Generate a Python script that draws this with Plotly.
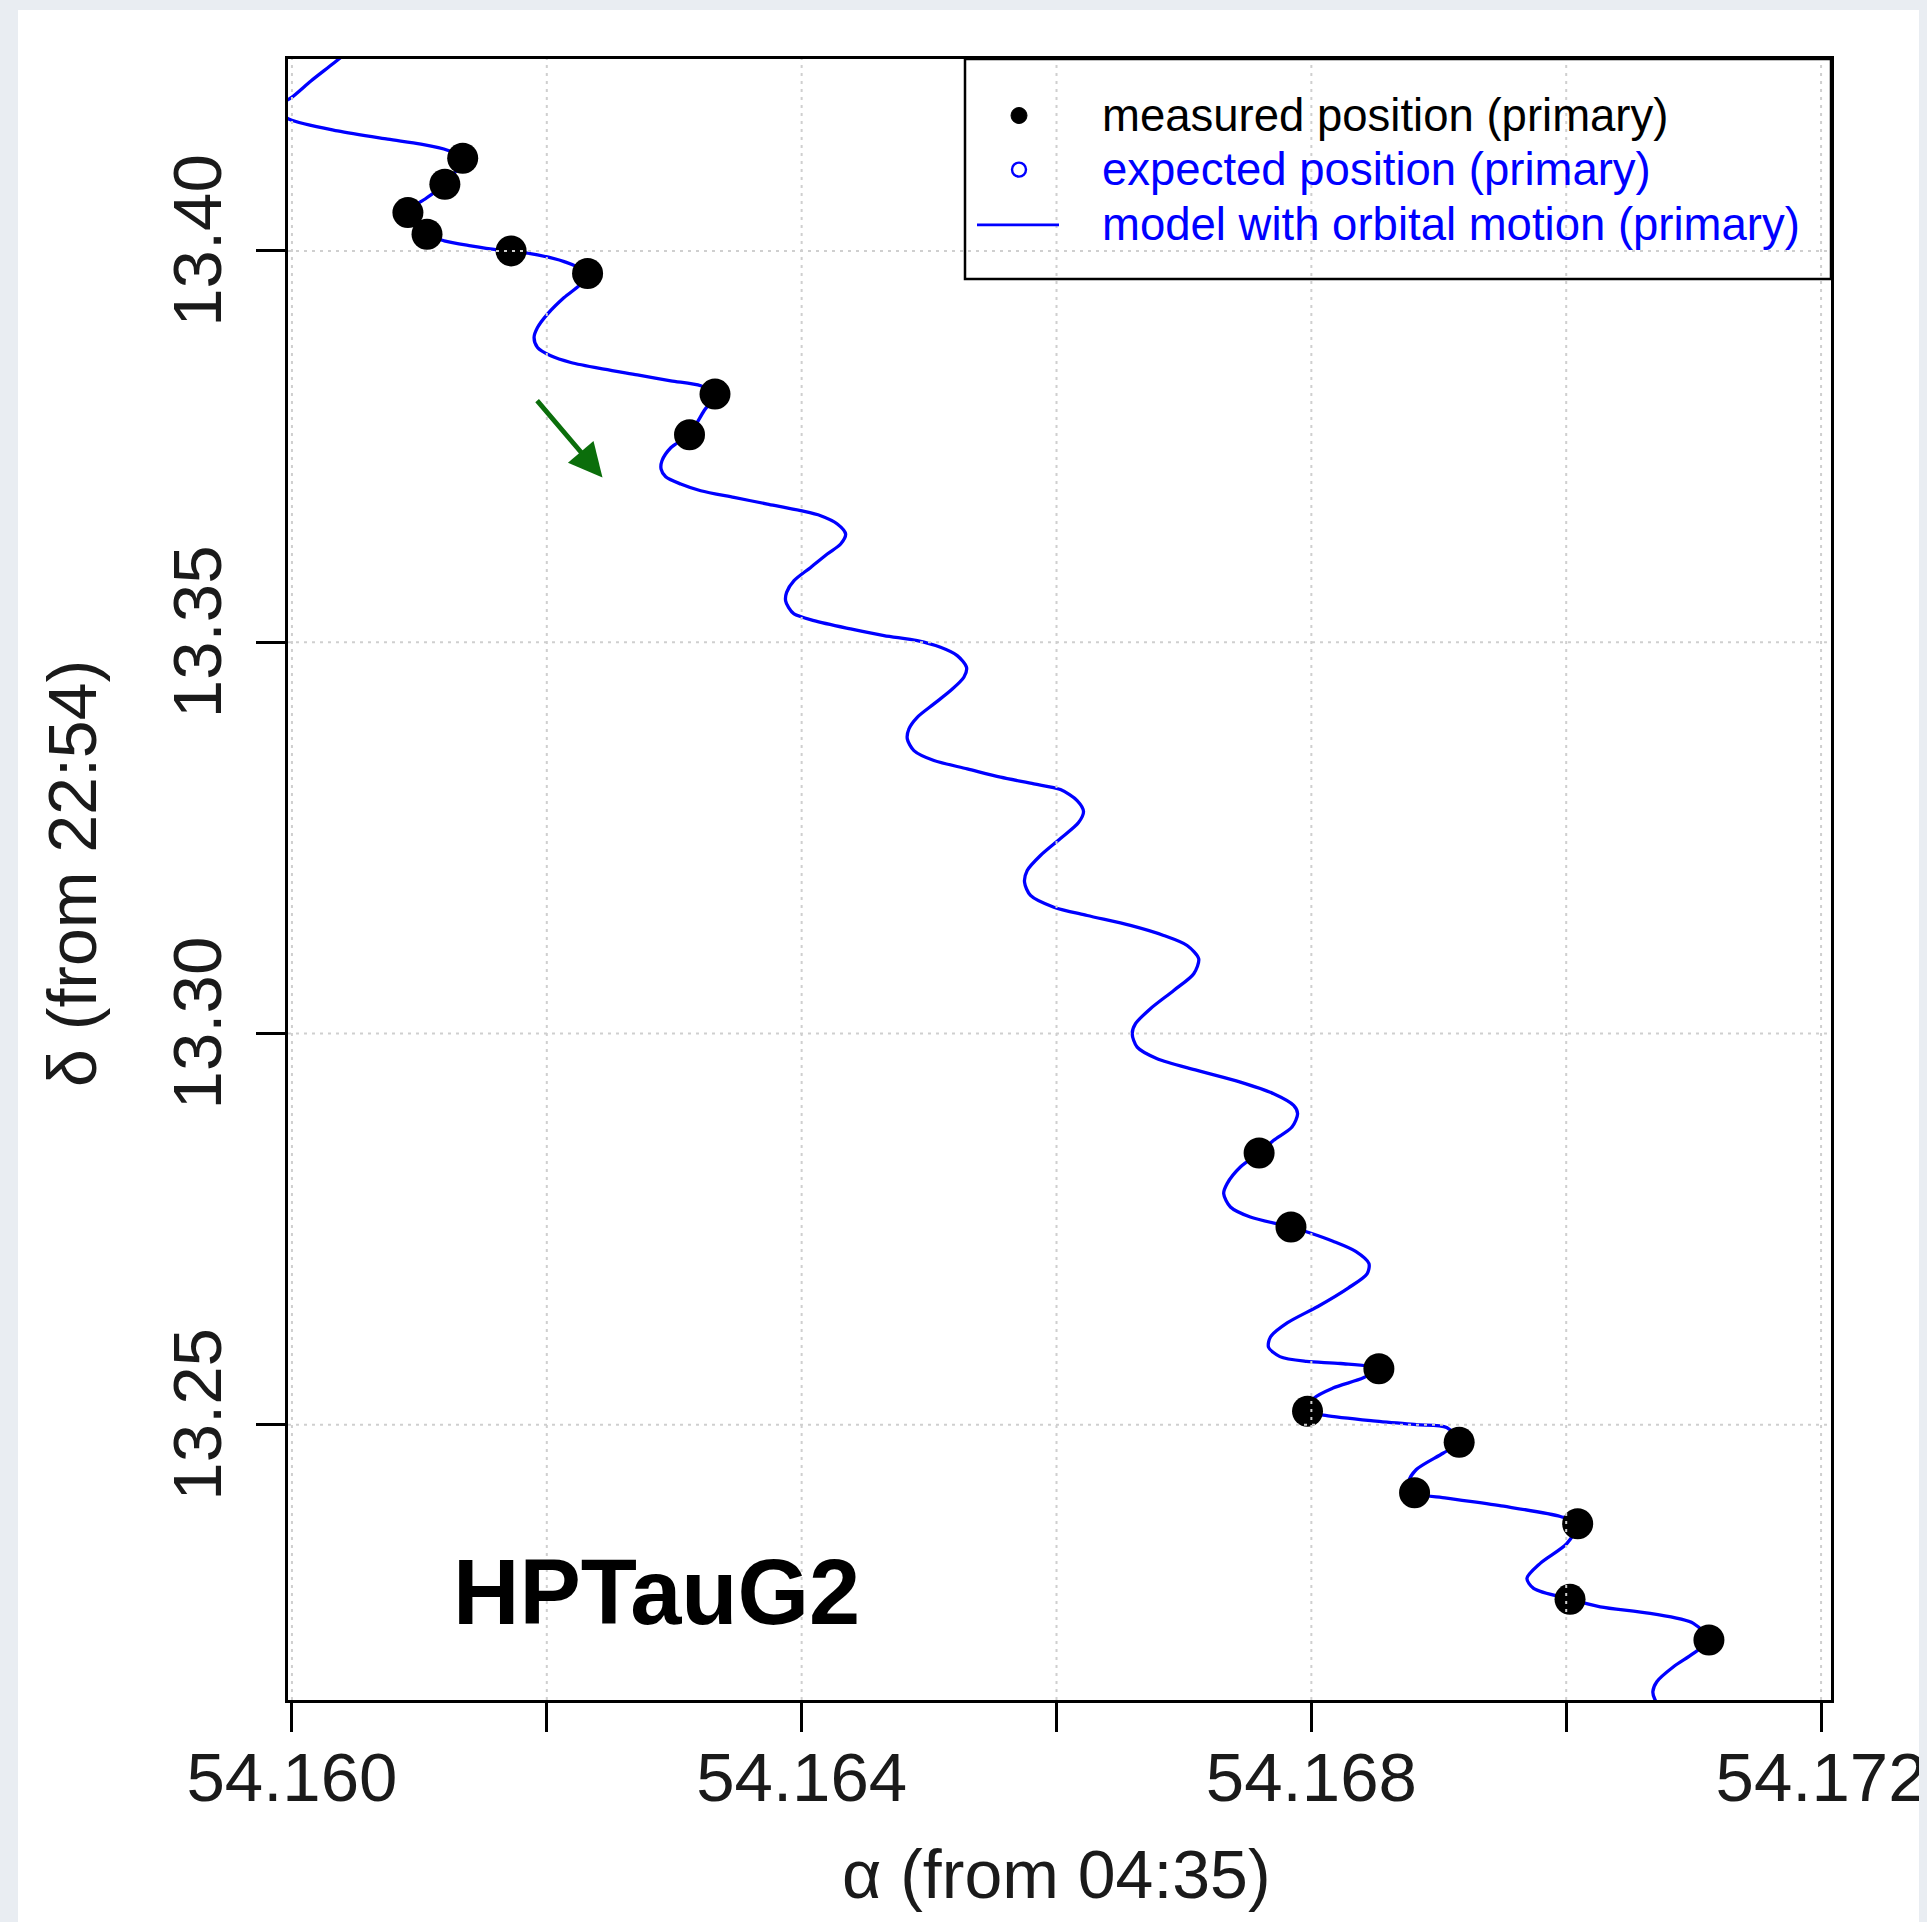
import plotly.graph_objects as go

# ---------------- data ----------------
meas_ra = [54.16134, 54.16120, 54.16091, 54.16106, 54.16172, 54.16232, 54.16332, 54.16312,
           54.16759, 54.16784, 54.16853, 54.16797, 54.16916, 54.16881, 54.17009, 54.17003, 54.17112]
meas_dec = [13.41184, 13.40852, 13.40489, 13.40213, 13.40000, 13.39710, 13.38170, 13.37650,
            13.28472, 13.27526, 13.25714, 13.25172, 13.24776, 13.24130, 13.23734, 13.22768, 13.22248]

model_ra = [
    54.160541, 54.160329, 54.160149, 54.159992, 54.159851, 54.159979, 54.160358, 54.160751,
    54.161012, 54.161221, 54.161339, 54.161200, 54.161053, 54.160907, 54.161059, 54.161195,
    54.161404, 54.161613, 54.161717, 54.161927, 54.162136, 54.162324, 54.162267, 54.162136,
    54.162005, 54.161927, 54.161900, 54.161927, 54.162031, 54.162188, 54.162449, 54.162711,
    54.162973, 54.163208, 54.163320, 54.163234, 54.163116, 54.162973, 54.162904, 54.162897,
    54.162933, 54.163051, 54.163208, 54.163469, 54.163731, 54.163992, 54.164149, 54.164280,
    54.164345, 54.164306, 54.164201, 54.164071, 54.163940, 54.163882, 54.163874, 54.163898,
    54.163940, 54.164096, 54.164384, 54.164646, 54.164907, 54.165090, 54.165221, 54.165294,
    54.165273, 54.165169, 54.165038, 54.164907, 54.164842, 54.164829, 54.164881, 54.165038,
    54.165300, 54.165561, 54.165822, 54.166031, 54.166162, 54.166212, 54.166173, 54.166031,
    54.165874, 54.165770, 54.165749, 54.165796, 54.165979, 54.166241, 54.166580, 54.166841,
    54.167025, 54.167116, 54.167077, 54.166920, 54.166737, 54.166620, 54.166594, 54.166633,
    54.166790, 54.167104, 54.167443, 54.167704, 54.167861, 54.167892, 54.167848, 54.167704,
    54.167592, 54.167443, 54.167339, 54.167312, 54.167365, 54.167521, 54.167841, 54.167991,
    54.168170, 54.168348, 54.168452, 54.168437, 54.168289, 54.168051, 54.167813, 54.167679,
    54.167664, 54.167753, 54.167961, 54.168229, 54.168527, 54.168408, 54.168170, 54.168021,
    54.167967, 54.168110, 54.168467, 54.168824, 54.169062, 54.169161, 54.169033, 54.168824,
    54.168765, 54.168809, 54.169062, 54.169509, 54.169955, 54.170089, 54.170006, 54.169796,
    54.169692, 54.169744, 54.170032, 54.170267, 54.170659, 54.170998, 54.171116, 54.170998,
    54.170842, 54.170711, 54.170680, 54.170698, 54.170737, 54.170839]
model_dec = [
    13.42682, 13.42401, 13.42171, 13.41954, 13.41826, 13.41682, 13.41533, 13.41427,
    13.41363, 13.41286, 13.41184, 13.40852, 13.40673, 13.40489, 13.40213, 13.40128,
    13.40064, 13.40013, 13.40000, 13.39949, 13.39863, 13.39710, 13.39575, 13.39404,
    13.39192, 13.39020, 13.38893, 13.38765, 13.38659, 13.38574, 13.38489, 13.38416,
    13.38340, 13.38276, 13.38170, 13.37957, 13.37650, 13.37484, 13.37318, 13.37212,
    13.37114, 13.37021, 13.36935, 13.36849, 13.36765, 13.36680, 13.36616, 13.36510,
    13.36382, 13.36254, 13.36127, 13.35955, 13.35786, 13.35636, 13.35530, 13.35441,
    13.35360, 13.35275, 13.35169, 13.35083, 13.35019, 13.34934, 13.34828, 13.34678,
    13.34551, 13.34381, 13.34211, 13.34040, 13.33892, 13.33764, 13.33614, 13.33487,
    13.33381, 13.33274, 13.33189, 13.33116, 13.32976, 13.32835, 13.32695, 13.32491,
    13.32274, 13.32082, 13.31933, 13.31763, 13.31613, 13.31507, 13.31380, 13.31252,
    13.31124, 13.30954, 13.30763, 13.30549, 13.30316, 13.30124, 13.29997, 13.29825,
    13.29677, 13.29528, 13.29378, 13.29230, 13.29081, 13.28975, 13.28804, 13.28634,
    13.28472, 13.28293, 13.28081, 13.27953, 13.27782, 13.27654, 13.27526, 13.27450,
    13.27345, 13.27215, 13.27059, 13.26928, 13.26746, 13.26511, 13.26303, 13.26121,
    13.25990, 13.25870, 13.25808, 13.25782, 13.25714, 13.25599, 13.25469, 13.25339,
    13.25172, 13.25120, 13.25052, 13.25000, 13.24964, 13.24776, 13.24635, 13.24427,
    13.24270, 13.24130, 13.24062, 13.23958, 13.23827, 13.23734, 13.23483, 13.23228,
    13.23036, 13.22908, 13.22768, 13.22673, 13.22589, 13.22462, 13.22248, 13.22078,
    13.21907, 13.21716, 13.21588, 13.21482, 13.21397, 13.21316]

# proper-motion arrow (tail -> head)
arrow_ra = [54.161914, 54.162437]
arrow_dec = [13.38106, 13.37105]

x_ticks = [54.160, 54.162, 54.164, 54.166, 54.168, 54.170, 54.172]
x_ticklabels = ["54.160", "", "54.164", "", "54.168", "", "54.172"]
y_ticks = [13.25, 13.30, 13.35, 13.40]
y_ticklabels = ["13.25", "13.30", "13.35", "13.40"]

legend_labels = ["measured position (primary)", "expected position (primary)",
                 "model with orbital motion (primary)"]
legend_colors = ["black", "#0000ff", "#0000ff"]

# ---------------- figure ----------------
FONT = "Liberation Sans, Arial, Helvetica, sans-serif"
BG = "#e9edf2"
OFF = 8                       # default body margin of the html page
PAGE_W, PAGE_H = 1927, 1922
W, H = PAGE_W - OFF, PAGE_H - OFF
# plot box in page pixels: left 288, right 1831, top 59, bottom 1700
L, T = 288 - OFF, 59 - OFF
R = W - (1831 - OFF)
B = H - (1700 - OFF)
pw, ph = W - L - R, H - T - B

def px(X):  # page pixel -> paper x
    return (X - OFF - L) / pw

def py(Y):  # page pixel -> paper y
    return (H - B - (Y - OFF)) / ph

fig = go.Figure()

fig.add_trace(go.Scatter(x=model_ra, y=model_dec, mode="lines",
                         line=dict(color="#0000ff", width=3.3, shape="spline", smoothing=0.8),
                         showlegend=False, hoverinfo="skip"))
fig.add_trace(go.Scatter(x=meas_ra, y=meas_dec, mode="markers",
                         marker=dict(color="black", size=31, line=dict(width=0)),
                         showlegend=False))

shapes = []
# background "paper" strips outside the white panel
shapes.append(dict(type="rect", xref="paper", yref="paper", x0=px(0), x1=px(18), y0=py(PAGE_H), y1=py(0),
                   fillcolor=BG, line=dict(width=0), layer="below"))
shapes.append(dict(type="rect", xref="paper", yref="paper", x0=px(0), x1=px(PAGE_W), y0=py(10), y1=py(0),
                   fillcolor=BG, line=dict(width=0), layer="below"))

# grid (dotted, drawn over the data like in R)
for xv in x_ticks:
    shapes.append(dict(type="line", xref="x", yref="paper", x0=xv, x1=xv, y0=0, y1=1,
                       line=dict(color="#cfcfcf", width=2, dash="3px,5px"), layer="above"))
for yv in y_ticks:
    shapes.append(dict(type="line", xref="paper", yref="y", x0=0, x1=1, y0=yv, y1=yv,
                       line=dict(color="#cfcfcf", width=2, dash="3px,5px"), layer="above"))

# legend box
shapes.append(dict(type="rect", xref="paper", yref="paper", x0=px(965), x1=1, y0=py(279), y1=1,
                   line=dict(color="black", width=2.5), layer="above"))
leg_y = [115.5, 169.6, 224.9]
r1, r2 = 8, 7
shapes.append(dict(type="circle", xref="paper", yref="paper",
                   x0=px(1019 - r1), x1=px(1019 + r1), y0=py(leg_y[0] + r1), y1=py(leg_y[0] - r1),
                   fillcolor="black", line=dict(color="black", width=1), layer="above"))
shapes.append(dict(type="circle", xref="paper", yref="paper",
                   x0=px(1019 - r2), x1=px(1019 + r2), y0=py(leg_y[1] + r2), y1=py(leg_y[1] - r2),
                   line=dict(color="#0000ff", width=2.4), layer="above"))
shapes.append(dict(type="line", xref="paper", yref="paper",
                   x0=px(977), x1=px(1059), y0=py(leg_y[2]), y1=py(leg_y[2]),
                   line=dict(color="#0000ff", width=2.8), layer="above"))

annotations = []
for lab, col, yy in zip(legend_labels, legend_colors, leg_y):
    annotations.append(dict(xref="paper", yref="paper", x=px(1100), y=py(yy), text=lab,
                            showarrow=False, xanchor="left", yanchor="middle",
                            font=dict(family=FONT, size=45.5, color=col)))

# object name
annotations.append(dict(xref="paper", yref="paper", x=px(656), y=py(1592), text="<b>HPTauG2</b>",
                        showarrow=False, xanchor="center", yanchor="middle",
                        font=dict(family=FONT, size=92, color="black")))
# axis titles
annotations.append(dict(xref="paper", yref="paper", x=px(1056), y=py(1874), text="α (from 04:35)",
                        showarrow=False, xanchor="center", yanchor="middle",
                        font=dict(family=FONT, size=68, color="#1a1a1a")))
annotations.append(dict(xref="paper", yref="paper", x=px(72), y=py(874), text="δ (from 22:54)",
                        showarrow=False, xanchor="center", yanchor="middle", textangle=-90,
                        font=dict(family=FONT, size=68, color="#1a1a1a")))
# proper-motion arrow
annotations.append(dict(x=arrow_ra[1], y=arrow_dec[1], ax=arrow_ra[0], ay=arrow_dec[0],
                        xref="x", yref="y", axref="x", ayref="y", text="", showarrow=True,
                        arrowhead=2, arrowsize=1.4, arrowwidth=4.8, arrowcolor="#0b6e0b",
                        standoff=0, startstandoff=0))

fig.update_layout(
    template="none",
    width=W, height=H,
    autosize=False,
    margin=dict(l=L, r=R, t=T, b=B, pad=0, autoexpand=False),
    paper_bgcolor="white", plot_bgcolor="white",
    showlegend=False,
    shapes=shapes, annotations=annotations,
    font=dict(family=FONT, color="#1a1a1a"),
    xaxis=dict(range=[54.159969, 54.172078], tickvals=x_ticks, ticktext=x_ticklabels,
               automargin=False,
               showgrid=False, zeroline=False, showline=True, mirror=True,
               linecolor="black", linewidth=2.5, ticks="outside", ticklen=29, tickwidth=2.5,
               tickcolor="black", ticklabelstandoff=-14,
               tickfont=dict(family=FONT, size=69, color="#1a1a1a")),
    yaxis=dict(range=[13.21482, 13.42452], tickvals=y_ticks, ticktext=y_ticklabels,
               automargin=False,
               showgrid=False, zeroline=False, showline=True, mirror=True,
               linecolor="black", linewidth=2.5, ticks="outside", ticklen=29, tickwidth=2.5,
               tickcolor="black", tickangle=-90, ticklabelstandoff=8,
               tickfont=dict(family=FONT, size=69, color="#1a1a1a")),
)

fig.write_html("out.html", post_script="document.body.style.background='%s';" % BG)
